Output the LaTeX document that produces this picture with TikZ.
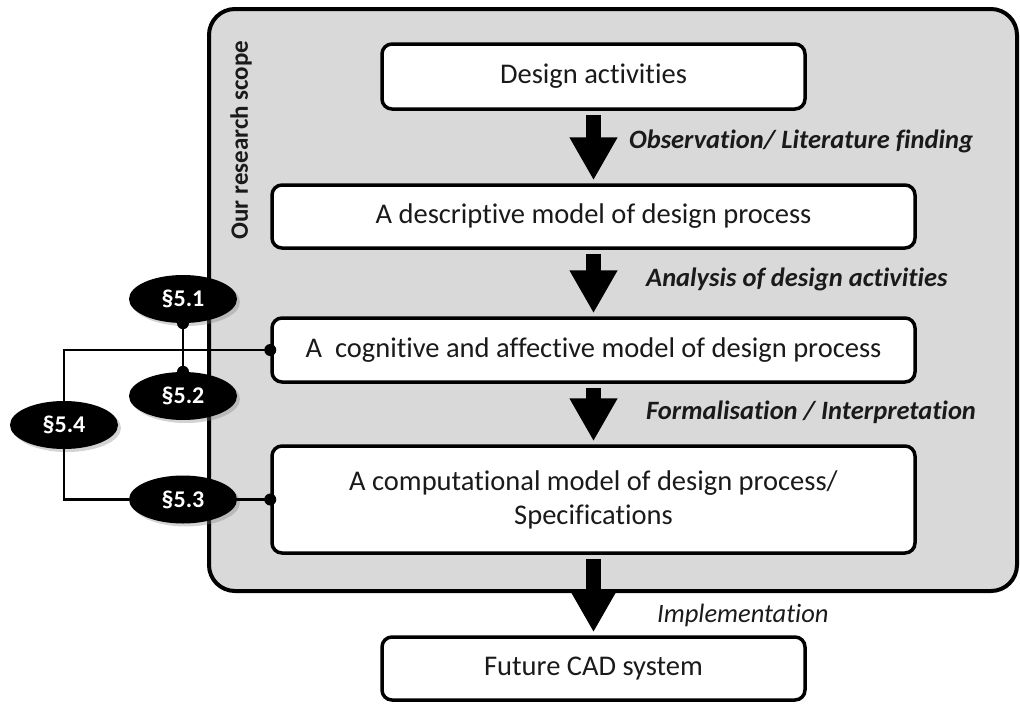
\documentclass[tikz,border=0pt]{standalone}
\usepackage{fontspec}
\setmainfont{Carlito}[Ligatures=NoCommon]
\usetikzlibrary{arrows.meta,shapes.geometric,shadows}
\definecolor{scopegray}{HTML}{D9D9D9}
\definecolor{ink}{HTML}{1A1A1A}
\tikzset{
  box/.style={draw=black,fill=white,rounded corners=10pt,line width=3.5pt,
              font=\fontsize{28.5}{34}\selectfont,text=ink,align=center,inner sep=4pt},
  scopebox/.style={draw=black,fill=scopegray,rounded corners=26pt,line width=4pt},
  sec/.style={ellipse,fill=black,text=white,font=\fontsize{24}{28}\selectfont\bfseries,
              minimum width=108pt,minimum height=48pt,inner sep=0pt,
              drop shadow={opacity=0.35,shadow xshift=3pt,shadow yshift=-3pt}},
  flow/.style={line width=15pt,-{Triangle[width=45pt,length=43pt]},shorten <=4pt,shorten >=3pt},
  link/.style={line width=2.8pt},
  dot/.style={circle,fill=black,inner sep=0pt,minimum size=12pt},
  note/.style={anchor=west,inner sep=0pt,font=\fontsize{26.5}{30}\selectfont\bfseries\itshape,text=ink},
}
\begin{document}
\begin{tikzpicture}[x=1pt,y=-1pt]
  \useasboundingbox (0,0) rectangle (1020,704);
  % research scope
  \node[scopebox,minimum width=808pt,minimum height=582pt] (scope) at (613,300) {};
  \node[rotate=90,inner sep=0pt,font=\fontsize{25}{30}\selectfont\bfseries,text=ink]
    (scopelabel) at (241,140) {Our research scope};
  % models
  \node[box,minimum width=423pt,minimum height=65pt] (act) at (593.5,76.5) {Design activities};
  \node[box,minimum width=643pt,minimum height=63pt] (desc) at (593.5,216.5) {A descriptive model of design process};
  \node[box,minimum width=643pt,minimum height=64pt] (cog) at (593.5,350) {A~~cognitive and affective model of design process};
  \node[box,minimum width=643pt,minimum height=107pt] (comp) at (593.5,499.5)
    {A computational model of design process/\\Specifications};
  \node[box,minimum width=423pt,minimum height=63pt] (cad) at (593.5,668.5) {Future CAD system};
  % steps
  \foreach \a/\b in {act/desc,desc/cog,cog/comp,comp/cad}
    \draw[flow] (\a.south) -- (\b.north);
  \node[note] (obs) at (629,141) {Observation/ Literature finding};
  \node[note] (ana) at (646,279) {Analysis of design activities};
  \node[note] (form) at (646,412) {Formalisation / Interpretation};
  \node[note,font=\fontsize{26.5}{30}\selectfont\itshape] (impl) at (657,615) {Implementation};
  % sections
  \foreach \s/\x/\y in {1/183/299,2/183/396,3/183/499.5,4/64/425}
    \node[sec] (s\s) at (\x,\y) {§5.\s};
  \draw[link] (s1.south) -- (s2.north);
  \draw[link] (cog.west) -| (s4.north);
  \draw[link] (s4.south) |- (s3.west);
  \draw[link] (s3.east) -- (comp.west);
  \node[dot] (d1) at (s1.south) {};
  \node[dot] (d2) at (s2.north) {};
  \node[dot] (d3) at (cog.west) {};
  \node[dot] (d4) at (comp.west) {};
\end{tikzpicture}
\end{document}
